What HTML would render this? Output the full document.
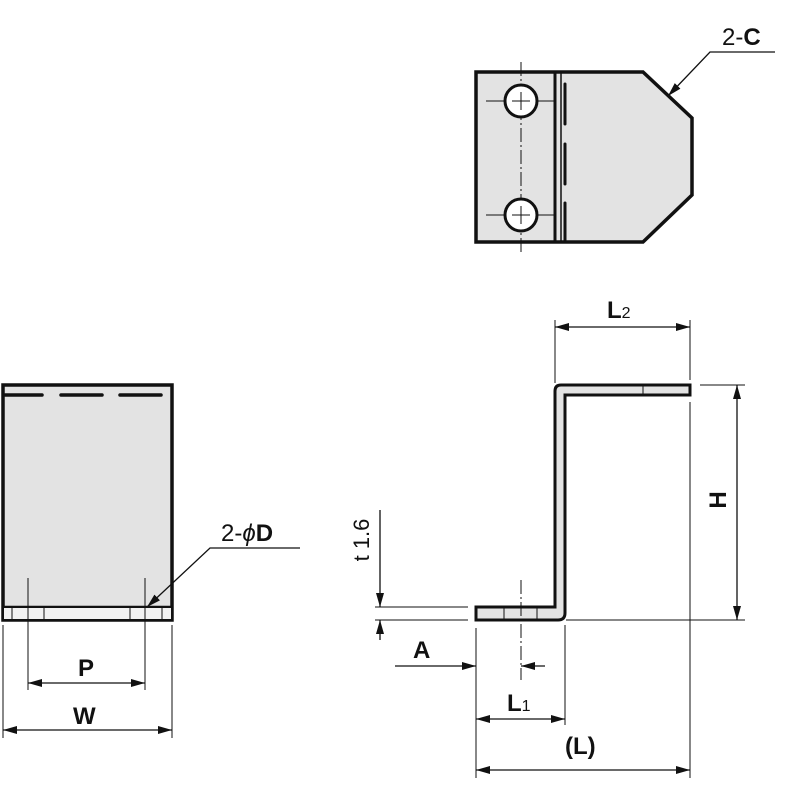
<!DOCTYPE html>
<html><head><style>body{margin:0;background:#fff}svg{display:block}text{font-family:"Liberation Sans",Arial,sans-serif;fill:#111}.b{font-weight:bold}.n{font-weight:normal}</style></head>
<body>
<svg width="800" height="800" viewBox="0 0 800 800" xmlns="http://www.w3.org/2000/svg">
<defs>
<marker id="a" viewBox="0 0 14 8" refX="14" refY="4" markerWidth="14" markerHeight="8" markerUnits="userSpaceOnUse" orient="auto-start-reverse"><path d="M0,0 L14,4 L0,8 Z" fill="#111"/></marker>
</defs>
<g stroke="#111" fill="none">
<path d="M476,72 L643,72 L692,118 L692,195 L643,242 L476,242 Z" fill="#e3e3e3" stroke-width="3.5"/>
<line x1="555" y1="72" x2="555" y2="242" stroke-width="3"/>
<line x1="561" y1="72" x2="561" y2="242" stroke-width="1.5"/>
<g stroke-width="3" stroke-linecap="round"><line x1="565" y1="84" x2="565" y2="124"/><line x1="565" y1="144" x2="565" y2="184"/><line x1="565" y1="203" x2="565" y2="240"/></g>
<line x1="521" y1="62" x2="521" y2="252" stroke-width="1" stroke-dasharray="14,3,2,3"/>
<line x1="486" y1="101" x2="555" y2="101" stroke-width="1"/>
<line x1="486" y1="215" x2="555" y2="215" stroke-width="1"/>
<circle cx="521" cy="101" r="16" fill="#fff" stroke-width="3"/>
<circle cx="521" cy="215" r="16" fill="#fff" stroke-width="3"/>
<line x1="521" y1="92" x2="521" y2="110" stroke-width="1"/><line x1="512" y1="101" x2="530" y2="101" stroke-width="1"/>
<line x1="521" y1="206" x2="521" y2="224" stroke-width="1"/><line x1="512" y1="215" x2="530" y2="215" stroke-width="1"/>
<polyline points="775,52 710,52 668,96" stroke-width="1.3" marker-end="url(#a)"/>
<rect x="3" y="385" width="169" height="235" fill="#e3e3e3" stroke-width="3.5"/>
<line x1="3" y1="607" x2="172" y2="607" stroke-width="2.5"/>
<rect x="4" y="608" width="167" height="11" fill="#f2f2f2" stroke="none"/>
<g stroke-width="1"><line x1="12" y1="608" x2="12" y2="619"/><line x1="44" y1="608" x2="44" y2="619"/><line x1="130" y1="608" x2="130" y2="619"/><line x1="162" y1="608" x2="162" y2="619"/></g>
<g stroke-width="3.5" stroke-linecap="round"><line x1="5" y1="395" x2="42" y2="395"/><line x1="61" y1="395" x2="102" y2="395"/><line x1="120" y1="395" x2="161" y2="395"/></g>
<g stroke-width="1"><line x1="28" y1="578" x2="28" y2="690"/><line x1="145" y1="578" x2="145" y2="690"/><line x1="3" y1="625" x2="3" y2="738"/><line x1="172" y1="625" x2="172" y2="738"/></g>
<line x1="28" y1="683" x2="145" y2="683" stroke-width="1.3" marker-start="url(#a)" marker-end="url(#a)"/>
<line x1="3" y1="730" x2="172" y2="730" stroke-width="1.3" marker-start="url(#a)" marker-end="url(#a)"/>
<polyline points="300,548 210,548 147,607" stroke-width="1.3" marker-end="url(#a)"/>
<path d="M690,385 L561,385 Q555,385 555,391 L555,607 L476,607 L476,620 L558,620 Q565,620 565,613 L565,395 L690,395 Z" fill="#e3e3e3" stroke-width="3"/>
<g stroke-width="1"><line x1="643" y1="386" x2="643" y2="394"/><line x1="504" y1="608" x2="504" y2="619"/><line x1="537" y1="608" x2="537" y2="619"/></g>
<line x1="521" y1="580" x2="521" y2="680" stroke-width="1" stroke-dasharray="14,3,2,3"/>
<g stroke-width="1">
<line x1="375" y1="607" x2="468" y2="607"/><line x1="375" y1="620" x2="468" y2="620"/>
<line x1="566" y1="620" x2="745" y2="620"/><line x1="700" y1="385" x2="745" y2="385"/>
<line x1="555" y1="320" x2="555" y2="383"/><line x1="690" y1="320" x2="690" y2="380"/><line x1="690" y1="402" x2="690" y2="778"/>
<line x1="476" y1="628" x2="476" y2="778"/><line x1="565" y1="625" x2="565" y2="725"/>
</g>
<line x1="380" y1="510" x2="380" y2="607" stroke-width="1.3" marker-end="url(#a)"/>
<line x1="380" y1="640" x2="380" y2="620" stroke-width="1.3" marker-end="url(#a)"/>
<line x1="737" y1="385" x2="737" y2="620" stroke-width="1.3" marker-start="url(#a)" marker-end="url(#a)"/>
<line x1="555" y1="327" x2="690" y2="327" stroke-width="1.3" marker-start="url(#a)" marker-end="url(#a)"/>
<line x1="395" y1="666" x2="476" y2="666" stroke-width="1.3" marker-end="url(#a)"/>
<line x1="545" y1="666" x2="521" y2="666" stroke-width="1.3" marker-end="url(#a)"/>
<line x1="476" y1="719" x2="565" y2="719" stroke-width="1.3" marker-start="url(#a)" marker-end="url(#a)"/>
<line x1="476" y1="770" x2="690" y2="770" stroke-width="1.3" marker-start="url(#a)" marker-end="url(#a)"/>
</g>
<text x="722" y="45" font-size="24" class="n">2-<tspan class="b">C</tspan></text>
<text x="221" y="541" font-size="24" class="n">2-<tspan font-style="italic">ϕ</tspan><tspan class="b">D</tspan></text>
<text x="78" y="676" font-size="24" class="b">P</text>
<text x="73" y="724" font-size="24" class="b">W</text>
<text x="607" y="318" font-size="24" class="b">L<tspan font-size="16" class="n">2</tspan></text>
<text transform="translate(726,500) rotate(-90)" font-size="24" text-anchor="middle" class="b">H</text>
<text transform="translate(369,540) rotate(-90)" font-size="22" text-anchor="middle" class="n">t 1.6</text>
<text x="413" y="658" font-size="24" class="b">A</text>
<text x="507" y="711" font-size="24" class="b">L<tspan font-size="16" class="n">1</tspan></text>
<text x="565" y="754" font-size="24" class="b">(L)</text>
</svg>
</body></html>
